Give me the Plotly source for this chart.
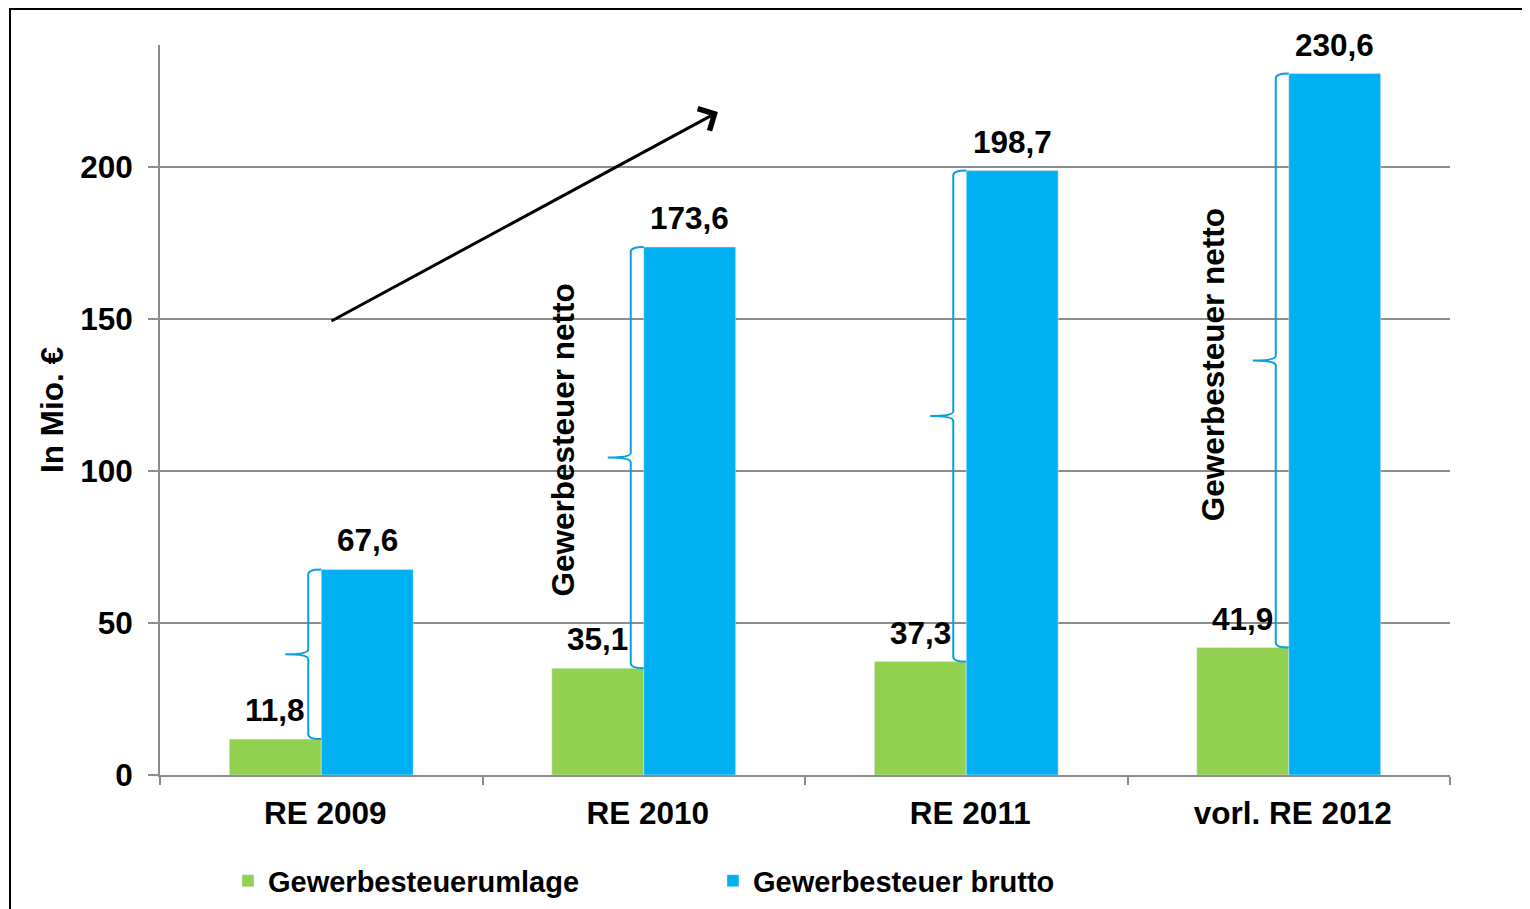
import plotly.graph_objects as go

categories = ["RE 2009", "RE 2010", "RE 2011", "vorl. RE 2012"]
umlage = [11.8, 35.1, 37.3, 41.9]
brutto = [67.6, 173.6, 198.7, 230.6]
y_ticks = [0, 50, 100, 150, 200]
brace_label = "Gewerbesteuer netto"

GREEN = "#92d050"
BLUE = "#00b0f0"
GRID = "#8c8c8c"
FONT = dict(family="Liberation Sans, Arial, sans-serif", size=31.5, color="black", weight="bold")
LEG_FONT = dict(FONT, size=29)

xs = list(range(len(categories)))
BARGAP = 0.43
half = (1 - BARGAP) / 4  # offset of each bar centre from the group centre

fig = go.Figure()
fig.add_trace(go.Bar(x=xs, y=umlage, name="Gewerbesteuerumlage", marker_color=GREEN))
fig.add_trace(go.Bar(x=xs, y=brutto, name="Gewerbesteuer brutto", marker_color=BLUE))

# value labels
for i, (g, b) in enumerate(zip(umlage, brutto)):
    for xv, v in [(i - half, g), (i + half, b)]:
        fig.add_annotation(x=xv, y=v, text=f"{v:.1f}".replace(".", ","),
                           showarrow=False, yanchor="bottom", yshift=9, font=FONT)

# curly braces between green top and blue top (left of the blue bar)
dx_line = 13 / 322.5
dx_tip = 36 / 322.5
r = 1.6
for i, (g, b) in enumerate(zip(umlage, brutto)):
    m = (g + b) / 2
    xl = i - dx_line
    xt = i - dx_tip
    path = (f"M {i},{g} Q {xl},{g} {xl},{g + r} L {xl},{m - r} "
            f"Q {xl},{m} {xt},{m} Q {xl},{m} {xl},{m + r} "
            f"L {xl},{b - r} Q {xl},{b} {i},{b}")
    fig.add_shape(type="path", path=path, xref="x", yref="y",
                  line=dict(color="#0aa0e0", width=2), layer="above")

# rotated labels for two of the braces
for xc, yc in [(0.75, 110), (2.765, 135)]:
    fig.add_annotation(x=xc, y=yc, text=brace_label, textangle=-90,
                       showarrow=False, font=FONT)

# trend arrow
fig.add_annotation(x=1.23, y=218, ax=0.027, ay=149, xref="x", yref="y",
                   axref="x", ayref="y", text="", showarrow=True,
                   arrowhead=4, arrowsize=1.6, arrowwidth=3, arrowcolor="black")

# outer frame
fig.add_shape(type="rect", xref="paper", yref="paper",
              x0=(2 - 152) / 1290, x1=(1519 - 152) / 1290,
              y0=(767 - 935) / 730, y1=(767 - 1) / 730,
              line=dict(color="black", width=2), layer="below")

fig.update_layout(
    width=1522, height=940,
    margin=dict(l=152, r=80, t=37, b=173),
    paper_bgcolor="white", plot_bgcolor="white",
    barmode="group", bargap=BARGAP, bargroupgap=0,
    font=FONT,
    showlegend=True,
    legend=dict(orientation="h", x=0.0527, y=-0.145, xanchor="left", yanchor="middle",
                font=LEG_FONT, entrywidth=440, entrywidthmode="pixels",
                bgcolor="rgba(0,0,0,0)"),
    xaxis=dict(range=[-0.5, 3.5], tickvals=xs, ticktext=categories, ticks="",
               showline=True, linecolor=GRID, linewidth=2, showgrid=False,
               zeroline=False, ticklabelstandoff=9, ticklabelshift=4,
               minor=dict(tick0=0.5, dtick=1, ticks="outside", ticklen=8,
                          tickcolor=GRID, tickwidth=2, showgrid=False)),
    yaxis=dict(range=[0, 240], tickvals=y_ticks, showgrid=True, gridcolor=GRID,
               gridwidth=2, showline=True, linecolor=GRID, linewidth=2,
               ticks="outside", ticklen=10, tickcolor=GRID, tickwidth=2,
               zeroline=False, ticklabelstandoff=9,
               title=dict(text="In Mio. €", font=FONT, standoff=7)),
)

fig.write_html("out.html")
